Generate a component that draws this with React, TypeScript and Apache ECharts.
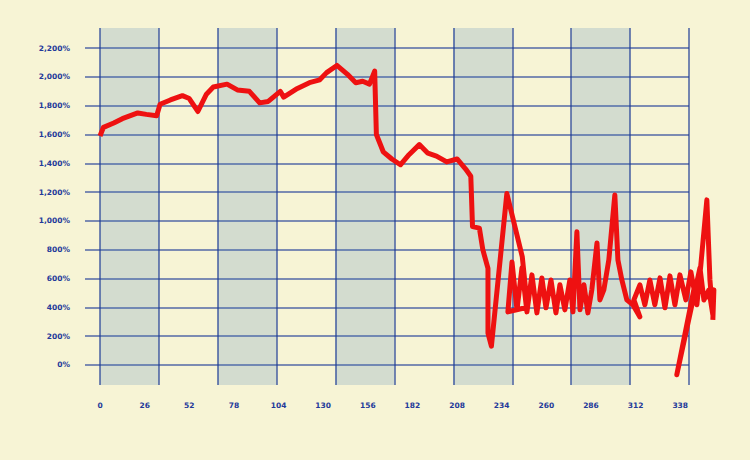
import React, { useEffect, useRef } from "react";
import * as echarts from "echarts";

// x tick labels (value axis, interval 26)
const xTicks = [0, 26, 52, 78, 104, 130, 156, 182, 208, 234, 260, 286, 312, 338];
const yTicks = [0, 200, 400, 600, 800, 1000, 1200, 1400, 1600, 1800, 2000, 2200];

// series points [x, percent]
const firstPart: [number, number][] = [
  [0, 1590], [2, 1650], [8, 1680], [13, 1710], [22, 1750], [27, 1740], [33, 1730],
  [35, 1810], [41, 1840], [48, 1870], [52, 1850], [57, 1760], [62, 1880], [66, 1930],
  [74, 1950], [80, 1910], [87, 1900], [93, 1820], [98, 1830], [105, 1900], [107, 1860],
  [115, 1920], [122, 1960], [128, 1980], [132, 2030], [138, 2080], [144, 2020],
  [149, 1960], [153, 1970], [157, 1950], [160, 2040], [161, 1600], [165, 1480],
  [170, 1430], [175, 1390], [180, 1460], [186, 1530], [191, 1470], [196, 1450],
  [202, 1410], [208, 1430], [213, 1360], [216, 1310], [217, 960], [221, 950],
  [223, 800], [226, 670], [226, 220], [228, 130], [237, 1190], [246, 750], [249, 400],
];
const secondPart: [number, number][] = [
  [237.6, 368], [240, 715], [242.9, 382], [245.8, 674], [248.7, 368], [251.6, 625],
  [254.5, 361], [257.4, 604], [259.8, 396], [262.7, 590], [265.6, 361], [267.9, 556],
  [270.8, 382], [273.7, 590], [275.5, 368], [277.8, 924], [279.6, 382], [281.9, 556],
  [284.2, 361], [286.5, 521], [289.5, 847], [291.2, 451], [293.5, 521], [296.4, 729],
  [299.9, 1180], [301.7, 729], [304, 590], [306.9, 451], [310.4, 417], [314.5, 333],
  [311, 451], [314.5, 556], [317.4, 417], [320.3, 590], [323.2, 417], [326.2, 604],
  [329.1, 396], [332, 618], [334.9, 417], [337.8, 625], [341.3, 451], [344.2, 646],
  [347.7, 417], [350, 694], [353.5, 1146], [355.3, 590], [357, 347], [354.7, 521],
  [351.8, 451], [349.5, 674], [336, -69], [346.5, 556], [356.4, 451], [357.6, 521], [357, 312],
];
const seriesData: [number, number][] = [...firstPart, ...secondPart];

const GRID_COLOR = "rgba(28, 58, 150, 0.75)";
const LABEL_COLOR = "#23399a";

export default function App() {
  const ref = useRef<HTMLDivElement>(null);
  useEffect(() => {
    if (!ref.current) return;
    const chart = echarts.init(ref.current, undefined, { renderer: "svg" });
    const vert = { top: 28, bottom: 75 };
    chart.setOption({
      animation: false,
      backgroundColor: "#f7f4d5",
      grid: [
        { left: 100, right: 32, ...vert },
        { left: 100, right: 61, ...vert },
        { left: 85, right: 61, ...vert },
      ],
      xAxis: [
        {
          type: "value",
          gridIndex: 0,
          min: 0,
          max: 360,
          interval: 26,
          axisLine: { show: false },
          axisTick: { show: false },
          splitLine: { show: false },
          axisLabel: {
            showMaxLabel: false,
            margin: 16,
            color: LABEL_COLOR,
            fontSize: 7.5,
            fontWeight: "bold",
            fontFamily: "DejaVu Sans",
            formatter: (v: number) => (xTicks.includes(v) ? String(v) : ""),
          },
        },
        {
          type: "value",
          gridIndex: 1,
          min: 0,
          max: 10,
          interval: 1,
          axisLine: { show: false },
          axisTick: { show: false },
          axisLabel: { show: false },
          splitLine: { show: true, lineStyle: { color: GRID_COLOR, width: 1.6 } },
          splitArea: {
            show: true,
            areaStyle: { color: ["rgba(70, 125, 185, 0.2)", "rgba(0,0,0,0)"] },
          },
        },
        {
          type: "value",
          gridIndex: 2,
          min: 0,
          max: 10,
          show: false,
        },
      ],
      yAxis: [
        {
          type: "value",
          gridIndex: 0,
          min: -140,
          max: 2340,
          splitNumber: 12,
          axisLine: { show: false },
          axisTick: { show: false },
          splitLine: { show: false },
          axisLabel: {
            showMinLabel: false,
            showMaxLabel: false,
            margin: 30,
            color: LABEL_COLOR,
            fontSize: 7.5,
            fontWeight: "bold",
            fontFamily: "DejaVu Sans",
            formatter: (v: number) =>
              yTicks.includes(v) ? v.toLocaleString("en-US") + "%" : "",
          },
        },
        {
          type: "value",
          gridIndex: 1,
          min: -140,
          max: 2340,
          show: false,
        },
        {
          type: "value",
          gridIndex: 2,
          min: -140,
          max: 2340,
          splitNumber: 12,
          axisLine: { show: false },
          axisTick: { show: false },
          axisLabel: { show: false },
          splitLine: {
            show: true,
            showMinLine: false,
            showMaxLine: false,
            lineStyle: { color: GRID_COLOR, width: 1.6 },
          },
        },
      ],
      series: [
        {
          type: "line",
          xAxisIndex: 0,
          yAxisIndex: 0,
          data: seriesData,
          showSymbol: false,
          symbol: "none",
          clip: false,
          z: 5,
          lineStyle: { color: "#ee1111", width: 5, join: "round" },
        },
      ],
    });
    return () => chart.dispose();
  }, []);
  return (
    <div
      ref={ref}
      style={{ position: "fixed", left: 0, top: 0, width: 750, height: 460 }}
    />
  );
}
